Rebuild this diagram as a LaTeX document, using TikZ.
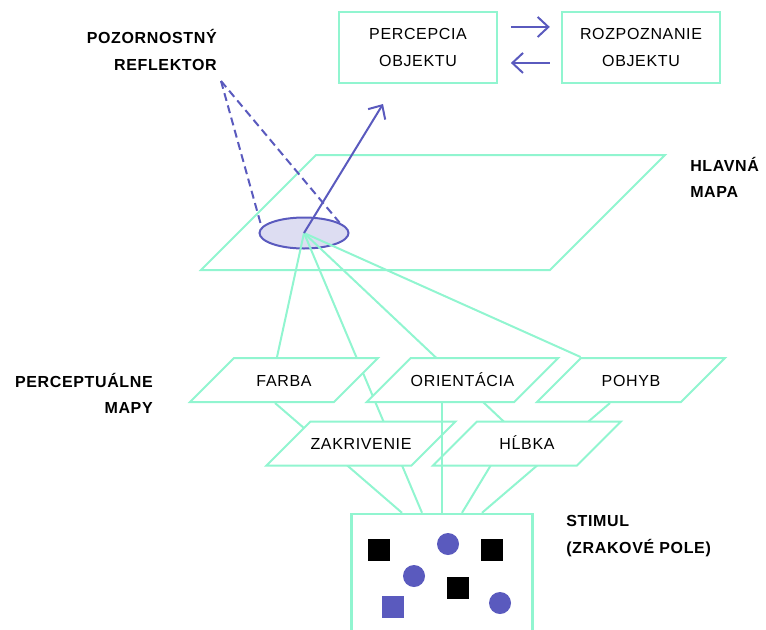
\documentclass[tikz,border=0pt]{standalone}
\usepackage{fontspec}
\setmainfont{Liberation Sans}[LetterSpace=4]
\usepackage{tikz}
\usetikzlibrary{shapes.geometric,arrows.meta,calc,backgrounds}
\definecolor{mapmint}{RGB}{145,245,208}
\definecolor{spotblue}{RGB}{90,90,190}
\definecolor{spotfill}{RGB}{221,221,242}
\newcommand{\boxfont}{\fontsize{12}{20}\selectfont}
\newcommand{\headfont}{\bfseries\fontsize{12}{20}\selectfont}

\begin{document}
\begin{tikzpicture}[x=0.75pt, y=-0.75pt,
objbox/.style={draw=mapmint, line width=1.8pt, minimum width=118.5pt,
minimum height=53.25pt, align=center, font=\boxfont},
plane/.style={trapezium, trapezium left angle=45, trapezium right angle=135,
trapezium stretches body=true, draw=mapmint, line width=1.5pt,
inner xsep=2pt, text depth=0pt},
mapbox/.style={plane, fill=white, minimum width=141pt, inner xsep=0pt,
inner ysep=12pt, text height=9pt, font=\boxfont},
spot/.style={ellipse, draw=spotblue, fill=spotfill, line width=1.5pt,
minimum width=66.75pt, minimum height=23.25pt, inner sep=0pt},
link/.style={draw=mapmint, line width=1.5pt},
arrow/.style={-{Straight Barb[length=8pt,width=15pt]}, line width=1.5pt, draw=spotblue},
beam/.style={draw=spotblue, line width=1.5pt, dash pattern=on 6pt off 3.5pt},
heading/.style={font=\headfont, inner sep=0pt},
blacksq/.style={fill=black, minimum size=16.5pt, inner sep=0pt},
bluesq/.style={fill=spotblue, minimum size=16.5pt, inner sep=0pt},
bluedot/.style={circle, fill=spotblue, minimum size=16.5pt, inner sep=0pt}
]
\useasboundingbox (0,0) rectangle (766,629);
\clip (0,0) rectangle (766,629);

\node[objbox] (percepcia) at (418,47.5) {PERCEPCIA\\OBJEKTU};
\node[objbox] (rozpoznanie) at (641,47.5) {ROZPOZNANIE\\OBJEKTU};

\draw[arrow, shorten <=9.5pt, shorten >=8.25pt]
([yshift=15.4pt]percepcia.east) -- ([yshift=15.4pt]rozpoznanie.west);
\draw[arrow, shorten <=8.25pt, shorten >=9.5pt]
([yshift=-11.6pt]rozpoznanie.west) -- ([yshift=-11.6pt]percepcia.east);

\node[plane, minimum width=348pt, text height=0pt, inner ysep=43.125pt] (hlavna)
at (433,212.5) {};

\node[mapbox] (farba) at (284,380) {FARBA};
\node[mapbox] (orientacia) at (462.5,380) {ORIENTÁCIA};
\node[mapbox] (pohyb) at (631,380) {POHYB};
\node[mapbox] (zakrivenie) at (361,443.5) {ZAKRIVENIE};
\node[mapbox] (hlbka) at (527,443.5) {HĹBKA};

\node[draw=mapmint, line width=1.8pt, fill=white, minimum width=135.75pt,
minimum height=109.5pt] (stimul) at (442,587) {};

\begin{scope}[on background layer]
\node[spot] (spot) at (304,233) {};
\draw[link] (spot.center) -- ($(farba.north)+(-7,0)$);
\draw[link] (spot.center) -- ($(stimul.north)+(-20,0)$);
\draw[link] (spot.center) -- (hlbka.center);
\draw[link] (spot.center) -- (pohyb.top left corner);
\draw[link] ($(stimul.north)+(-40,0)$) -- ($(farba.south)+(-9,0)$);
\draw[link] ($(stimul.north)+(20,0)$) -- ($(hlbka.center)+(-23,0)$);
\draw[link] ($(stimul.north)+(40,0)$) -- ($(pohyb.south)+(-21,0)$);
\end{scope}
\draw[link] (stimul.north) -- (stimul.north |- orientacia.south);

\coordinate (aim) at (383,104);
\coordinate (lamp) at (221,81);
\draw[beam] (lamp) -- (spot.172);
\draw[beam] (lamp) -- (spot.16);
\draw[arrow] (spot.center) -- (aim);

\foreach \x/\y [count=\i] in {379/550, 492/550, 458/588}
\node[blacksq] (kocka\i) at (\x,\y) {};
\node[bluesq] (kocka4) at (393,607) {};
\foreach \x/\y [count=\i] in {448/544, 414/576, 500/603}
\node[bluedot] (kruh\i) at (\x,\y) {};

\node[heading, anchor=east, align=right] (reflektor) at (217,50)
{POZORNOSTNÝ\\REFLEKTOR};
\node[heading, anchor=west, align=left] (mapa) at (690,177.5) {HLAVNÁ\\MAPA};
\node[heading, anchor=east, align=right] (mapy) at (153,393.5)
{PERCEPTUÁLNE\\MAPY};
\node[heading, anchor=west, align=left] (pole) at (566,536)
{STIMUL\\(ZRAKOVÉ POLE)};

\end{tikzpicture}
\end{document}
